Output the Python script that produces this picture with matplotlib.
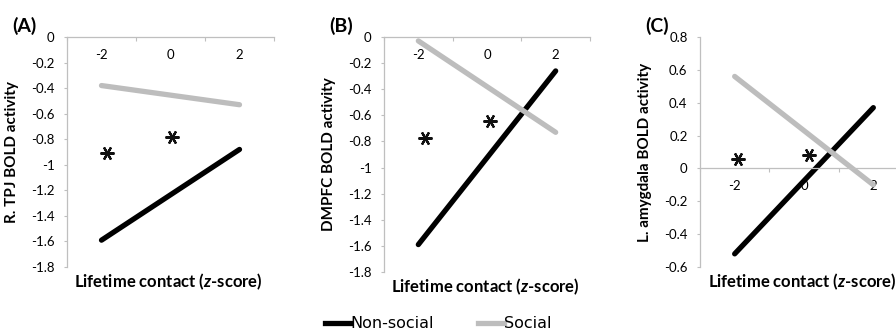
import matplotlib
matplotlib.use('Agg')
import matplotlib.pyplot as plt
from matplotlib.lines import Line2D

plt.rcParams['font.family'] = ['Lato', 'DejaVu Sans']
plt.rcParams['axes.unicode_minus'] = False
plt.rcParams['mathtext.fontset'] = 'custom'
plt.rcParams['mathtext.rm'] = 'Lato'
plt.rcParams['mathtext.it'] = 'Lato:bold:italic'

# data
contact = [-2, 2]
tick_labels = ['-2', '0', '2']
panels = ['(A)', '(B)', '(C)']
ylabels = ['R. TPJ BOLD activity', 'DMPFC BOLD activity', 'L. amygdala BOLD activity']
nonsocial = [[-1.59, -0.88], [-1.59, -0.26], [-0.52, 0.37]]
social = [[-0.38, -0.53], [-0.03, -0.73], [0.56, -0.10]]
star_x = [[-1.83, 0.05], [-1.8, 0.1], [-1.9, 0.15]]
star_y = [[-0.91, -0.78], [-0.77, -0.64], [0.06, 0.08]]
ylims = [(-1.8, 0), (-1.8, 0), (-0.6, 0.8)]

# axes boxes in pixels (left, top, right, bottom)
boxes = [(67, 37, 274, 267), (384, 37, 590, 272), (700, 37, 908, 267)]

W, H = 896, 333
fig = plt.figure(figsize=(W / 100, H / 100), dpi=100)
axis_grey = '#bfbfbf'

for i in range(3):
    l, t, r, b = boxes[i]
    ax = fig.add_axes([l / W, 1 - b / H, (r - l) / W, (b - t) / H])
    ax.plot(contact, nonsocial[i], color='black', lw=3.8, solid_capstyle='round')
    ax.plot(contact, social[i], color='#bdbdbd', lw=3.8, solid_capstyle='round')
    ax.plot(star_x[i], star_y[i], ls='none', marker=(6, 2, 90), ms=10, mew=1.6, color='#111111')

    ax.set_xlim(-3, 3)
    ax.set_ylim(*ylims[i])
    lo, hi = ylims[i]
    n = int(round((hi - lo) / 0.2))
    ax.set_yticks([round(lo + 0.2 * k, 1) for k in range(n + 1)])
    ax.yaxis.set_major_formatter(plt.FuncFormatter(lambda v, p: '%g' % round(v, 1)))

    ax.spines['top'].set_visible(False)
    ax.spines['right'].set_visible(False)
    ax.spines['bottom'].set_position(('data', 0))
    for s in ['left', 'bottom']:
        ax.spines[s].set_color(axis_grey)
        ax.spines[s].set_linewidth(0.9)

    ax.set_xticks([-3, -1, 1, 3])
    ax.set_xticklabels([])
    ax.set_xticks([-2, 0, 2], minor=True)
    ax.set_xticklabels(tick_labels, minor=True)
    ax.tick_params(axis='x', which='major', direction='out', length=3, color=axis_grey)
    ax.tick_params(axis='x', which='minor', length=0, pad=8.5, labelsize=9.5)
    ax.tick_params(axis='y', direction='out', length=2, color=axis_grey, pad=7, labelsize=9.5)

    ax.set_ylabel(ylabels[i], fontsize=11, fontweight='bold')
    ax.yaxis.set_label_coords(-48 / (r - l), 0.5)
    ax.set_xlabel(r'Lifetime contact ($\mathit{z}$-score)', fontsize=12, fontweight='bold')
    ax.xaxis.set_label_coords(0.49, -15 / (b - t))
    ax.xaxis.label.set_va('center')

    ax.text(l - 55, H - 26, panels[i], transform=None, fontsize=14, fontweight='bold',
            ha='left', va='center')

handles = [Line2D([], [], color='black', lw=3.8),
           Line2D([], [], color='#bdbdbd', lw=3.8)]
fig.legend(handles, ['Non-social', 'Social'], loc='center', bbox_to_anchor=(438 / W, 1 - 324 / H),
           ncol=2, frameon=False, prop={'family': 'DejaVu Sans', 'size': 11.5},
           handlelength=1.6, handletextpad=0.0, columnspacing=2.8)

fig.savefig('out.png', dpi=100)
